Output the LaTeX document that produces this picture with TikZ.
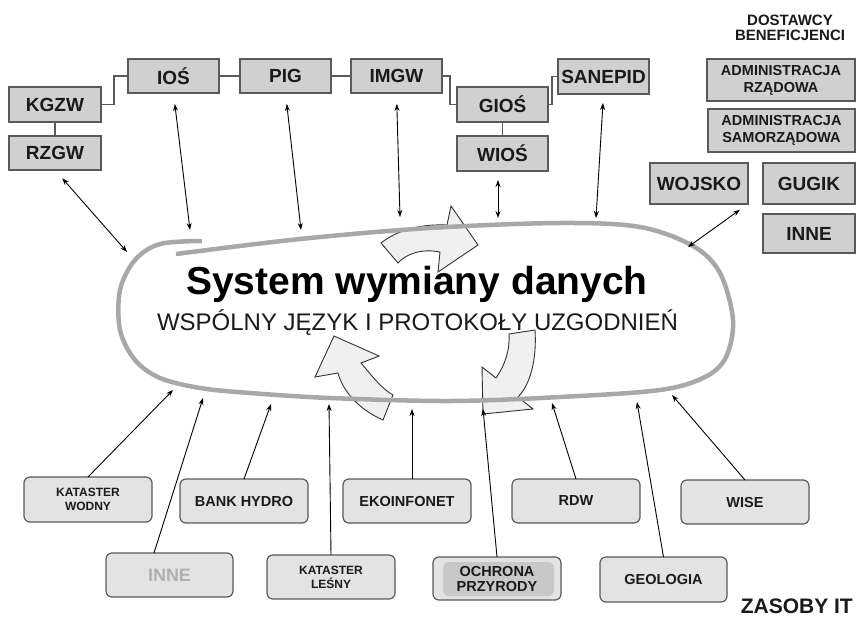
\documentclass[tikz,border=0pt]{standalone}
\usepackage{fontspec}
\setmainfont{Liberation Sans}
\usetikzlibrary{arrows.meta}
\definecolor{boxline}{HTML}{5A5A5A}
\definecolor{topfill}{HTML}{D0D0D0}
\definecolor{botfill}{HTML}{E3E3E3}
\definecolor{ringc}{HTML}{A8A8A8}
\definecolor{arrfill}{HTML}{F0F0F0}
\definecolor{txt}{HTML}{1A1A1A}
\definecolor{opfill}{HTML}{C8C8C8}
\definecolor{innetxt}{HTML}{B0B0B0}
\begin{document}
\begin{tikzpicture}[x=1pt,y=-1pt,
  topbox/.style={draw=boxline, fill=topfill, line width=1.2pt, inner sep=0pt, outer sep=0pt, text=txt, align=center, font=\bfseries\fontsize{19}{21}\selectfont},
  admbox/.style={topbox, font=\bfseries\fontsize{14.5}{17}\selectfont},
  botbox/.style={draw=boxline, fill=botfill, line width=1.2pt, rounded corners=6pt, inner sep=0pt, outer sep=0pt, text=txt, align=center, minimum width=128pt, minimum height=44pt, font=\bfseries\fontsize{14.5}{15}\selectfont},
  smallbot/.style={botbox, font=\bfseries\fontsize{12}{14}\selectfont},
  link/.style={draw=boxline, line width=1.2pt},
  both/.style={{Stealth[length=7pt,width=5pt]}-{Stealth[length=7pt,width=5pt]}, line width=0.9pt, black},
  toring/.style={-{Stealth[length=7pt,width=5pt]}, line width=0.9pt, black},
  blockarrow/.style={draw=black!80, fill=arrfill, line width=0.9pt, line join=miter}
]
\useasboundingbox (0,0) rectangle (856,616);
\fill[white] (0,0) rectangle (856,616);

% ---- block arrows ----
\path[blockarrow] (381,243) .. controls (400,228) and (425,224) .. (447,225)
  -- (451,206) -- (478,245) -- (438,272) -- (440,252)
  .. controls (420,248) and (405,255) .. (398,263) -- cycle;
\path[blockarrow] (334,336) -- (379,356) -- (361,363)
  .. controls (372,376) and (382,389) .. (393,395)
  -- (383,420) .. controls (360,410) and (343,392) .. (338,373)
  -- (315,377) -- cycle;
\path[blockarrow] (509,334) -- (535,330)
  .. controls (537,360) and (530,385) .. (518,397)
  -- (533,409) -- (483,414) -- (482,367) -- (496,378)
  .. controls (505,365) and (510,350) .. cycle;

% ---- ring ----
\draw[ringc, line width=4.5pt, line cap=butt] plot[smooth, tension=0.55] coordinates {
  (176,254) (300,239) (430,228) (560,223) (640,227) (693,246) (720,273)
  (733,320) (726,357) (705,377) (660,390) (560,397) (450,401) (330,398)
  (250,393) (200,388) (160,378) (135,360) (120,330) (120,290) (135,260)
  (160,244) (202,241)};

% ---- central text ----
\node[anchor=base, font=\bfseries\fontsize{39}{44}\selectfont, inner sep=0pt] (title) at (417,294) {System wymiany danych};
\node[anchor=base, font=\fontsize{24}{28}\selectfont, text=txt, inner sep=0pt] (sub) at (417.5,330) {WSPÓLNY JĘZYK I PROTOKOŁY UZGODNIEŃ};

% ---- top boxes ----
\node[topbox, minimum width=92pt, minimum height=35pt] (kgzw) at (55,104.5) {KGZW};
\node[topbox, minimum width=92pt, minimum height=34pt] (rzgw) at (55,153) {RZGW};
\node[topbox, minimum width=91pt, minimum height=34pt] (ios) at (173.5,76) {IOŚ};
\node[topbox, minimum width=91pt, minimum height=34pt] (pig) at (285.5,76) {PIG};
\node[topbox, minimum width=91pt, minimum height=34pt] (imgw) at (396.5,76) {IMGW};
\node[topbox, minimum width=91pt, minimum height=35pt] (gios) at (502.5,104.5) {GIOŚ};
\node[topbox, minimum width=91pt, minimum height=35pt] (wios) at (502.5,153.5) {WIOŚ};
\node[topbox, minimum width=91pt, minimum height=35pt] (sanepid) at (603.5,76.5) {SANEPID};
\node[admbox, minimum width=148pt, minimum height=42pt] (admr) at (781,80) {ADMINISTRACJA\\RZĄDOWA};
\node[admbox, minimum width=147pt, minimum height=43pt] (adms) at (781.5,130.5) {ADMINISTRACJA\\SAMORZĄDOWA};
\node[topbox, minimum width=98pt, minimum height=41pt] (wojsko) at (699,183.5) {WOJSKO};
\node[topbox, minimum width=92pt, minimum height=41pt] (gugik) at (809,183.5) {GUGIK};
\node[topbox, minimum width=92pt, minimum height=39pt] (innet) at (809,233.5) {INNE};
\node[font=\bfseries\fontsize{15}{15}\selectfont, text=txt, align=center, inner sep=0pt] (dost) at (790,28) {DOSTAWCY\\BENEFICJENCI};

% ---- links among top boxes ----
\draw[link] (kgzw) -- (rzgw);
\draw[link] (kgzw.east) -- ++(13,0) |- (ios.west);
\draw[link] (ios.east) -- (pig.west);
\draw[link] (pig.east) -- (imgw.west);
\draw[link] (imgw.east) -- ++(8,0) |- (gios.west);
\draw[link] (gios.east) -- ++(4,0) |- (sanepid.west);
\draw[link] (gios) -- (wios);

% ---- bottom boxes ----
\node[smallbot, minimum height=45pt] (kw) at (88,499.5) {KATASTER\\WODNY};
\node[botbox] (bh) at (244,501) {BANK HYDRO};
\node[botbox] (ek) at (407,501) {EKOINFONET};
\node[botbox] (rdw) at (576,501) {RDW};
\node[botbox] (wise) at (745,502) {WISE};
\node[botbox, minimum width=127pt, text=innetxt, font=\bfseries\fontsize{18}{20}\selectfont] (ib) at (169.5,575) {INNE};
\node[smallbot] (kl) at (331,577) {KATASTER\\LEŚNY};
\node[botbox, minimum height=43pt, path picture={\fill[opfill] ([xshift=10pt,yshift=-5pt]path picture bounding box.north west) rectangle ([xshift=-7pt,yshift=4pt]path picture bounding box.south east);}] (op) at (497,578.5) {OCHRONA\\PRZYRODY};
\node[botbox, minimum width=127pt, minimum height=45pt] (geo) at (663.5,579.5) {GEOLOGIA};
\node[anchor=base east, font=\bfseries\fontsize{21}{21}\selectfont, text=txt, inner sep=0pt] (zit) at (853,613) {ZASOBY IT};

% ---- ring end points ----
\coordinate (eRZ) at (127,252);
\coordinate (eIOS) at (190,230);
\coordinate (ePIG) at (301,230);
\coordinate (eIMGW) at (400,217);
\coordinate (eWIOS) at (498,218);
\coordinate (eSAN) at (596,218);
\coordinate (eWOJ) at (688,247);
\coordinate (bKW) at (173,390);
\coordinate (bIN) at (203,398);
\coordinate (bBH) at (271,404);
\coordinate (bKL) at (329,404);
\coordinate (bEK) at (412,409);
\coordinate (bOP) at (483,409);
\coordinate (bRDW) at (552,403);
\coordinate (bGEO) at (637,402);
\coordinate (bWI) at (672,395);

% ---- top connectors ----
\draw[both, shorten <=11pt] (rzgw.south) -- (eRZ);
\draw[both, shorten <=11pt] (ios.south) -- (eIOS);
\draw[both, shorten <=11pt] (pig.south) -- (ePIG);
\draw[both, shorten <=11pt] (imgw.south) -- (eIMGW);
\draw[both, shorten <=9pt] (wios.south -| eWIOS) -- (eWIOS);
\draw[both, shorten <=9pt] (sanepid.south) -- (eSAN);
\draw[both, shorten <=10pt] (wojsko.south east) -- (eWOJ);

% ---- bottom connectors ----
\draw[toring] (kw.north) -- (bKW);
\draw[toring] ([xshift=-15.5pt]ib.north) -- (bIN);
\draw[toring] (bh.north) -- (bBH);
\draw[toring] (kl.north) -- (bKL);
\draw[toring] (ek.north -| bEK) -- (bEK);
\draw[toring] (op.north) -- (bOP);
\draw[toring] (rdw.north) -- (bRDW);
\draw[toring] (geo.north) -- (bGEO);
\draw[toring] (wise.north) -- (bWI);
\end{tikzpicture}
\end{document}
